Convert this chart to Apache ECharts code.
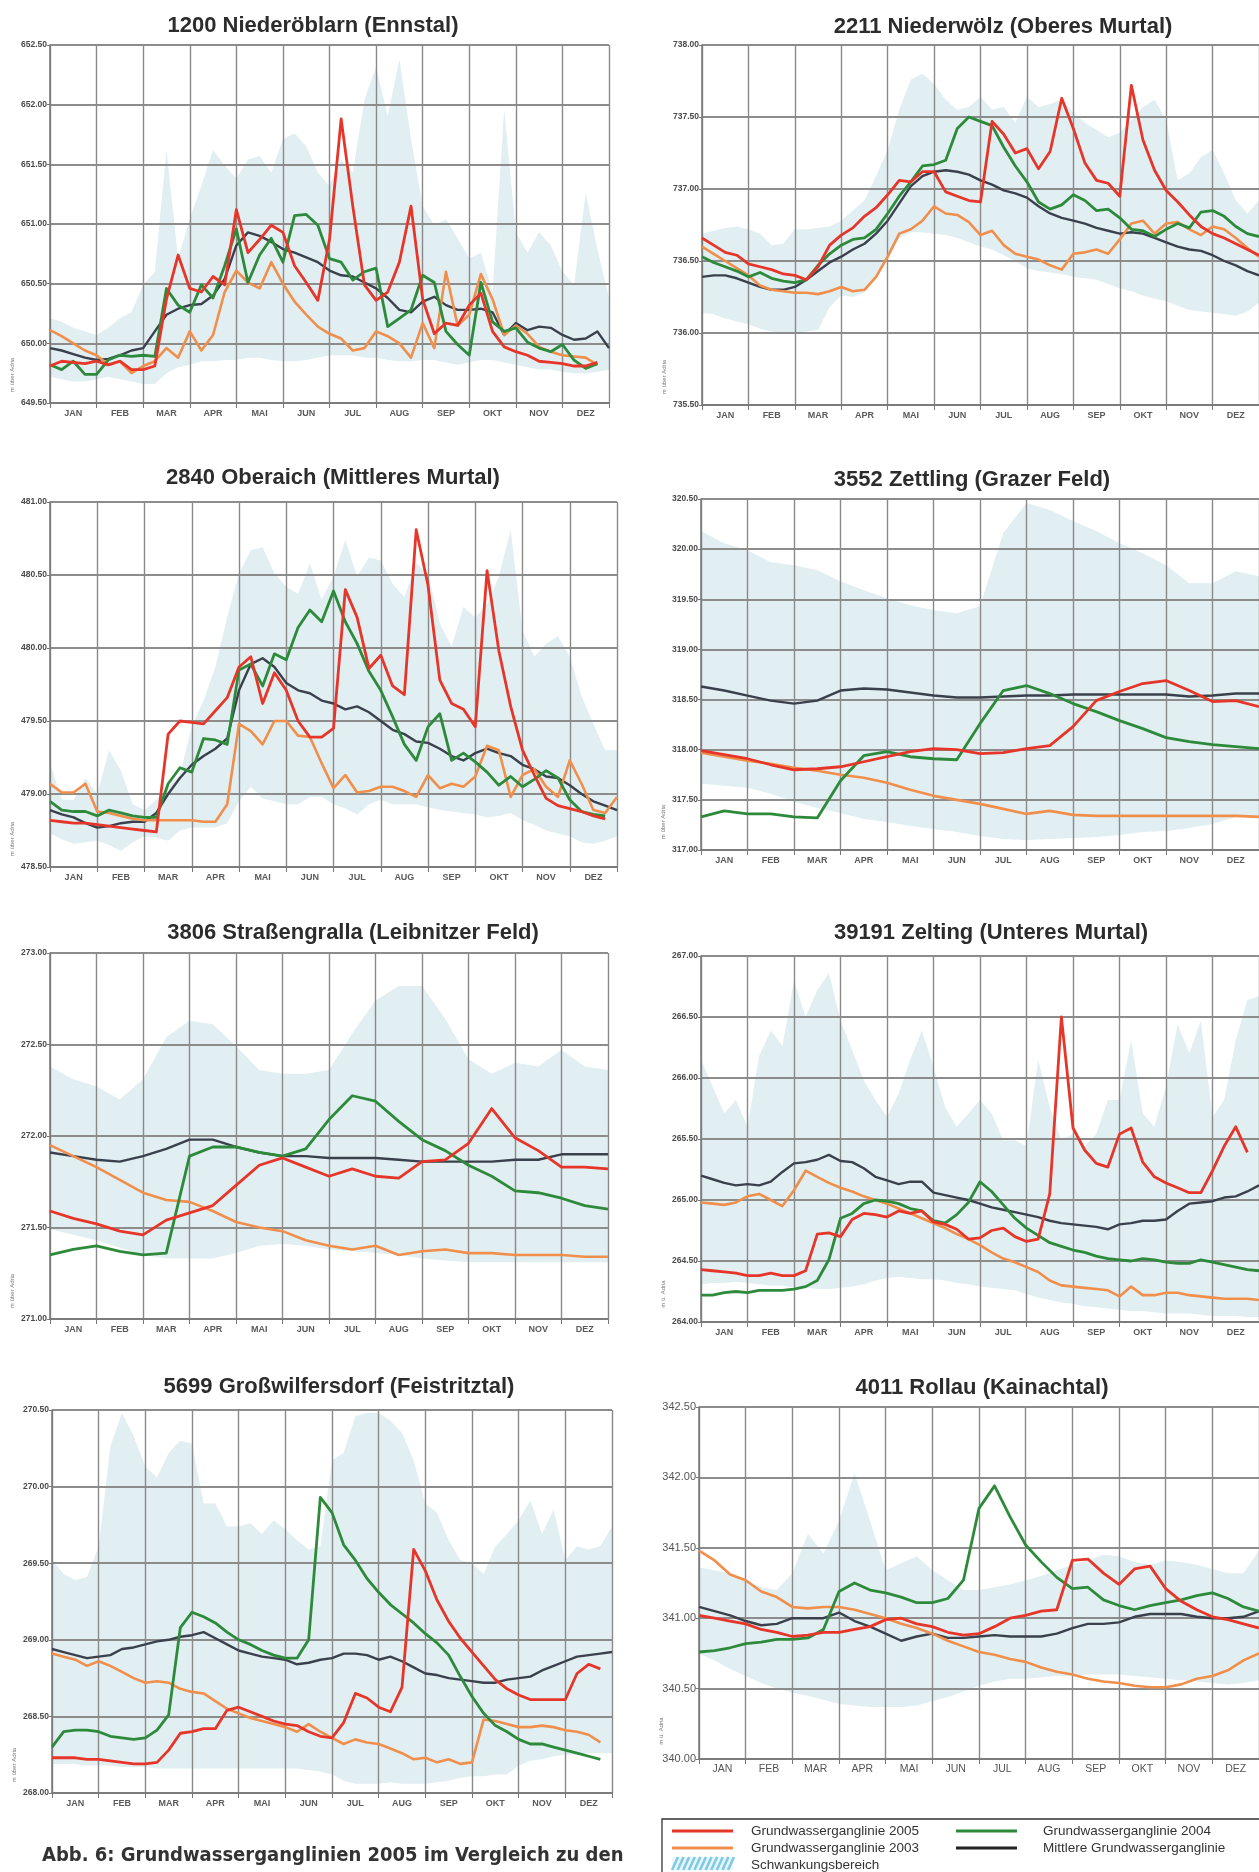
<!DOCTYPE html>
<html><head><meta charset="utf-8">
<script src="https://cdn.jsdelivr.net/npm/echarts@6/dist/echarts.min.js"></script>
<style>html,body{margin:0;padding:0;background:#fff}#c{width:1259px;height:1872px}</style>
</head><body><div id="c"></div>
<script>
// ---------- shared ----------
const MONTHS = ['JAN','FEB','MAR','APR','MAI','JUN','JUL','AUG','SEP','OKT','NOV','DEZ'];

// ---------- 1200 Niederöblarn (weekly, 4 samples / month) ----------
const c1_band_lo = [649.72,649.70,649.68,649.68,649.70,649.72,649.70,649.68,649.66,649.66,649.75,649.80,649.82,649.85,649.85,649.86,649.86,649.88,649.88,649.86,649.85,649.85,649.86,649.88,649.90,649.90,649.90,649.88,649.88,649.86,649.85,649.85,649.86,649.86,649.84,649.82,649.84,649.86,649.86,649.84,649.82,649.80,649.78,649.78,649.76,649.75,649.75,649.76,649.78];
const c1_band_hi = [650.21,650.18,650.13,650.10,650.07,650.13,650.21,650.26,650.49,650.60,651.62,650.71,651.04,651.32,651.62,651.49,651.38,651.54,651.57,651.43,651.71,651.76,651.65,651.43,651.32,651.54,651.43,652.04,652.32,651.90,652.38,651.71,651.15,650.99,651.04,650.88,650.71,650.76,650.43,651.96,650.93,650.76,650.93,650.82,650.60,650.49,651.26,650.79,650.38];
const c1_mean = [649.96,649.94,649.91,649.88,649.86,649.87,649.90,649.94,649.96,650.10,650.24,650.29,650.32,650.33,650.40,650.54,650.82,650.93,650.90,650.85,650.79,650.76,650.72,650.68,650.61,650.57,650.56,650.51,650.46,650.38,650.28,650.26,650.35,650.39,650.32,650.28,650.28,650.29,650.26,650.07,650.17,650.11,650.14,650.13,650.07,650.03,650.04,650.10,649.96];
const c1_y2003 = [650.11,650.06,650.00,649.94,649.90,649.82,649.85,649.75,649.81,649.85,649.96,649.88,650.10,649.94,650.07,650.43,650.61,650.51,650.46,650.68,650.50,650.35,650.24,650.14,650.08,650.04,649.94,649.96,650.10,650.06,650.00,649.88,650.17,649.96,650.60,650.15,650.24,650.58,650.37,650.07,650.15,650.08,649.97,649.93,649.90,649.89,649.88,649.82,null];
const c1_y2004 = [649.82,649.78,649.85,649.74,649.74,649.86,649.90,649.89,649.90,649.89,650.46,650.32,650.26,650.49,650.38,650.65,650.96,650.51,650.74,650.88,650.68,651.07,651.08,650.99,650.71,650.68,650.53,650.60,650.63,650.14,650.21,650.28,650.57,650.51,650.10,649.99,649.90,650.51,650.18,650.10,650.13,650.01,649.96,649.93,649.99,649.86,649.79,649.83,null];
const c1_y2005 = [649.81,649.85,649.84,649.83,649.85,649.82,649.85,649.78,649.78,649.81,650.37,650.74,650.46,650.43,650.56,650.49,651.12,650.76,650.87,650.99,650.93,650.65,650.51,650.36,650.87,651.88,651.15,650.49,650.36,650.43,650.68,651.15,650.37,650.08,650.17,650.15,650.32,650.42,650.10,649.97,649.93,649.90,649.85,649.84,649.83,649.81,649.81,649.84,null];

// ---------- 2211 Niederwölz ----------
const c2_band_lo = [736.14,736.13,736.10,736.08,736.06,736.03,736.01,736.00,736.00,736.01,736.02,736.18,736.26,736.25,736.28,736.39,736.53,736.66,736.70,736.70,736.69,736.68,736.66,736.63,736.60,736.58,736.54,736.50,736.45,736.43,736.42,736.41,736.39,736.38,736.37,736.34,736.31,736.29,736.26,736.24,736.22,736.19,736.16,736.15,736.14,736.13,736.12,736.15,736.21];
const c2_band_hi = [736.69,736.71,736.73,736.74,736.72,736.69,736.61,736.62,736.72,736.72,736.73,736.74,736.78,736.85,736.92,737.09,737.27,737.55,737.76,737.80,737.73,737.62,737.55,737.57,737.64,737.55,737.57,737.46,737.64,737.57,737.59,737.62,737.53,737.46,737.41,737.36,737.39,737.48,737.57,737.62,737.48,737.06,737.11,737.22,737.27,737.11,736.92,736.83,736.92];
const c2_mean = [736.39,736.40,736.40,736.38,736.35,736.32,736.30,736.30,736.32,736.37,736.43,736.49,736.53,736.58,736.62,736.69,736.78,736.90,737.02,737.09,737.12,737.13,737.12,737.10,737.06,737.03,736.99,736.97,736.94,736.88,736.83,736.80,736.78,736.76,736.73,736.71,736.69,736.70,736.69,736.66,736.63,736.60,736.58,736.57,736.54,736.50,736.47,736.43,736.40];
const c2_y2003 = [736.60,736.55,736.50,736.45,736.40,736.33,736.30,736.29,736.28,736.28,736.27,736.29,736.32,736.29,736.30,736.39,736.53,736.69,736.72,736.78,736.88,736.83,736.82,736.77,736.68,736.71,736.61,736.55,736.53,736.51,736.47,736.44,736.55,736.56,736.58,736.55,736.65,736.76,736.78,736.69,736.76,736.77,736.72,736.68,736.74,736.72,736.66,736.59,736.53];
const c2_y2004 = [736.53,736.49,736.46,736.43,736.39,736.42,736.38,736.36,736.35,736.37,736.47,736.55,736.61,736.65,736.66,736.72,736.83,736.95,737.05,737.16,737.17,737.20,737.42,737.50,737.47,737.44,737.29,737.16,737.05,736.91,736.86,736.89,736.96,736.92,736.85,736.86,736.80,736.72,736.71,736.67,736.72,736.76,736.73,736.84,736.85,736.81,736.74,736.69,736.67];
const c2_y2005 = [736.66,736.61,736.56,736.54,736.48,736.46,736.44,736.41,736.40,736.37,736.46,736.61,736.68,736.73,736.81,736.87,736.96,737.06,737.05,737.12,737.12,736.98,736.95,736.92,736.91,737.47,737.38,737.25,737.28,737.14,737.26,737.63,737.42,737.18,737.06,737.04,736.95,737.72,737.34,737.13,736.99,736.91,736.82,736.74,736.69,736.66,736.62,736.58,736.54];

// ---------- 2840 Oberaich ----------
const c3_band_lo = [478.73,478.69,478.66,478.67,478.68,478.65,478.61,478.67,478.71,478.70,478.68,478.75,478.77,478.77,478.77,478.80,478.95,479.05,478.97,478.95,478.93,478.93,478.98,478.98,478.93,478.90,478.86,478.93,478.96,478.93,478.93,478.93,478.91,478.89,478.88,478.87,478.86,478.84,478.85,478.87,478.82,478.79,478.75,478.73,478.71,478.67,478.66,478.68,478.71];
const c3_band_hi = [479.21,478.96,478.96,479.11,479.00,479.30,479.16,478.93,478.89,478.96,479.05,479.13,479.46,479.64,479.87,480.21,480.51,480.67,480.69,480.51,480.42,480.37,480.58,480.33,480.49,480.74,480.49,480.62,480.60,480.44,480.35,480.58,480.51,480.17,480.01,480.28,480.21,480.30,480.49,480.81,480.12,479.94,480.03,480.08,479.94,479.67,479.48,479.30,479.30];
const c3_mean = [478.89,478.86,478.84,478.80,478.77,478.78,478.80,478.81,478.81,478.87,479.00,479.11,479.20,479.26,479.31,479.38,479.71,479.89,479.93,479.87,479.76,479.71,479.69,479.64,479.62,479.58,479.60,479.56,479.50,479.44,479.41,479.36,479.35,479.31,479.26,479.23,479.28,479.31,479.28,479.26,479.20,479.17,479.12,479.11,479.06,479.00,478.95,478.92,478.89];
const c3_y2003 = [479.07,479.01,479.01,479.07,478.88,478.87,478.85,478.83,478.82,478.82,478.82,478.82,478.82,478.81,478.81,478.93,479.48,479.43,479.34,479.50,479.50,479.40,479.39,479.21,479.04,479.13,479.01,479.02,479.05,479.05,479.02,478.98,479.13,479.04,479.07,479.05,479.12,479.33,479.30,478.98,479.13,479.17,479.05,478.98,479.23,479.07,478.89,478.87,478.98];
const c3_y2004 = [478.95,478.89,478.88,478.88,478.85,478.89,478.87,478.85,478.84,478.84,479.07,479.18,479.15,479.38,479.37,479.34,479.85,479.89,479.74,479.96,479.92,480.14,480.26,480.18,480.39,480.18,480.03,479.84,479.71,479.53,479.34,479.23,479.46,479.55,479.23,479.28,479.22,479.15,479.06,479.12,479.05,479.10,479.16,479.11,478.96,478.88,478.86,478.85,null];
const c3_y2005 = [478.82,478.81,478.80,478.80,478.79,478.78,478.77,478.76,478.75,478.74,479.41,479.50,479.49,479.48,479.57,479.66,479.87,479.94,479.62,479.83,479.71,479.50,479.39,479.39,479.45,480.40,480.21,479.86,479.95,479.74,479.68,480.81,480.43,479.78,479.62,479.58,479.46,480.53,479.98,479.60,479.30,479.13,478.97,478.92,478.90,478.88,478.85,478.83,null];

// ---------- 3552 Zettling (half-monthly) ----------
const c4_band_lo = [317.66,317.64,317.62,317.56,317.48,317.42,317.37,317.31,317.28,317.24,317.21,317.18,317.14,317.11,317.10,317.11,317.12,317.13,317.15,317.18,317.19,317.22,317.26,317.33,317.34];
const c4_band_hi = [320.18,320.06,319.99,319.87,319.84,319.79,319.68,319.59,319.51,319.44,319.39,319.36,319.43,320.16,320.46,320.39,320.28,320.18,320.06,319.96,319.84,319.66,319.66,319.78,319.73];
const c4_mean = [318.63,318.59,318.54,318.49,318.46,318.49,318.59,318.61,318.60,318.57,318.54,318.52,318.52,318.53,318.54,318.54,318.55,318.55,318.55,318.55,318.55,318.53,318.54,318.56,318.56];
const c4_y2003 = [317.97,317.93,317.89,317.86,317.82,317.79,317.75,317.72,317.67,317.60,317.54,317.50,317.46,317.41,317.36,317.39,317.35,317.34,317.34,317.34,317.34,317.34,317.34,317.34,317.33];
const c4_y2004 = [317.33,317.39,317.36,317.36,317.33,317.32,317.69,317.94,317.98,317.93,317.91,317.90,318.26,318.59,318.64,318.56,318.46,318.38,318.29,318.21,318.12,318.08,318.05,318.03,318.01];
const c4_y2005 = [317.99,317.95,317.91,317.85,317.80,317.81,317.83,317.88,317.93,317.98,318.01,318.00,317.96,317.97,318.01,318.04,318.23,318.49,318.58,318.66,318.69,318.59,318.48,318.49,318.43];

// ---------- 3806 Straßengralla (half-monthly) ----------
const c5_band_lo = [271.49,271.46,271.43,271.39,271.35,271.33,271.33,271.33,271.36,271.40,271.41,271.40,271.38,271.37,271.36,271.35,271.33,271.32,271.31,271.31,271.31,271.31,271.31,271.31,271.31];
const c5_band_hi = [272.38,272.31,272.27,272.20,272.31,272.54,272.63,272.61,272.49,272.36,272.34,272.34,272.36,272.56,272.74,272.82,272.82,272.64,272.42,272.34,272.40,272.38,272.47,272.38,272.36];
const c5_mean = [271.91,271.89,271.87,271.86,271.89,271.93,271.98,271.98,271.94,271.91,271.89,271.89,271.88,271.88,271.88,271.87,271.86,271.86,271.86,271.86,271.87,271.87,271.90,271.90,271.90];
const c5_y2003 = [271.95,271.89,271.83,271.76,271.69,271.65,271.64,271.59,271.53,271.50,271.48,271.43,271.40,271.38,271.40,271.35,271.37,271.38,271.36,271.36,271.35,271.35,271.35,271.34,271.34];
const c5_y2004 = [271.35,271.38,271.40,271.37,271.35,271.36,271.89,271.94,271.94,271.91,271.89,271.93,272.09,272.22,272.19,272.08,271.98,271.92,271.84,271.78,271.70,271.69,271.66,271.62,271.60];
const c5_y2005 = [271.59,271.55,271.52,271.48,271.46,271.54,271.58,271.62,271.73,271.84,271.88,271.83,271.78,271.82,271.78,271.77,271.86,271.87,271.96,272.15,271.99,271.92,271.83,271.83,271.82];

// ---------- 39191 Zelting ----------
const c6_band_lo = [264.31,264.32,264.32,264.33,264.32,264.31,264.30,264.30,264.28,264.28,264.27,264.27,264.28,264.29,264.31,264.34,264.36,264.37,264.36,264.35,264.35,264.34,264.32,264.31,264.29,264.28,264.27,264.26,264.23,264.20,264.18,264.16,264.15,264.13,264.12,264.11,264.10,264.09,264.09,264.08,264.07,264.07,264.07,264.06,264.05,264.05,264.05,264.04,264.04];
const c6_band_hi = [266.15,265.93,265.71,265.82,265.60,266.18,266.39,266.26,266.80,266.50,266.72,266.86,266.47,266.23,265.98,265.82,265.68,265.87,266.15,266.39,266.09,265.76,265.60,265.71,265.82,265.71,265.49,265.49,265.44,266.15,265.76,265.49,265.54,265.44,265.54,265.82,265.82,266.31,265.71,265.60,265.93,266.44,266.20,266.47,265.68,265.82,266.31,266.64,266.67];
const c6_mean = [265.20,265.17,265.14,265.12,265.13,265.12,265.15,265.23,265.30,265.31,265.33,265.37,265.32,265.31,265.26,265.19,265.16,265.13,265.15,265.15,265.06,265.04,265.02,265.00,264.97,264.94,264.92,264.90,264.88,264.86,264.83,264.81,264.80,264.79,264.78,264.76,264.80,264.81,264.83,264.83,264.84,264.91,264.97,264.98,264.99,265.02,265.03,265.07,265.12];
const c6_y2003 = [264.98,264.97,264.96,264.98,265.03,265.05,265.00,264.95,265.08,265.24,265.19,265.14,265.10,265.07,265.03,265.00,264.97,264.93,264.89,264.85,264.81,264.77,264.72,264.68,264.63,264.57,264.52,264.49,264.45,264.41,264.34,264.30,264.29,264.28,264.27,264.26,264.21,264.29,264.22,264.22,264.24,264.24,264.22,264.21,264.20,264.19,264.19,264.19,264.18];
const c6_y2004 = [264.22,264.22,264.24,264.25,264.24,264.26,264.26,264.26,264.27,264.29,264.34,264.51,264.85,264.89,264.97,265.00,264.99,264.97,264.93,264.91,264.83,264.81,264.88,264.98,265.15,265.07,264.96,264.85,264.77,264.71,264.65,264.62,264.59,264.57,264.54,264.52,264.51,264.50,264.52,264.51,264.49,264.48,264.48,264.51,264.49,264.47,264.45,264.43,264.42];
const c6_y2005 = [264.43,264.42,264.41,264.40,264.38,264.38,264.40,264.38,264.38,264.42,264.72,264.73,264.70,264.84,264.89,264.88,264.86,264.91,264.89,264.91,264.82,264.80,264.76,264.68,264.69,264.75,264.77,264.70,264.66,264.68,265.05,266.50,265.59,265.41,265.30,265.27,265.54,265.59,265.31,265.19,265.14,265.10,265.06,265.06,265.24,265.44,265.60,265.39,null];

// ---------- 5699 Großwilfersdorf ----------
const c7_band_lo = [268.19,268.19,268.19,268.18,268.18,268.18,268.17,268.17,268.17,268.16,268.16,268.16,268.16,268.16,268.16,268.16,268.16,268.16,268.16,268.16,268.16,268.16,268.15,268.14,268.12,268.08,268.06,268.06,268.06,268.07,268.06,268.06,268.06,268.07,268.08,268.10,268.11,268.11,268.12,268.12,268.18,268.21,268.22,268.24,268.25,268.25,268.26,268.26,268.26];
const c7_band_hi = [269.52,269.43,269.39,269.41,269.61,270.26,270.48,270.33,270.13,270.06,270.22,270.30,270.28,269.89,269.89,269.74,269.74,269.76,269.69,269.78,269.72,269.65,269.59,269.61,270.17,270.22,270.46,270.48,270.48,270.43,270.35,270.17,269.89,269.83,269.65,269.52,269.50,269.43,269.61,269.69,269.78,269.91,269.69,269.85,269.52,269.61,269.59,269.61,269.74];
const c7_mean = [268.94,268.92,268.90,268.88,268.89,268.90,268.94,268.95,268.97,268.99,269.00,269.02,269.03,269.05,269.01,268.97,268.93,268.91,268.89,268.88,268.87,268.84,268.85,268.87,268.88,268.91,268.91,268.90,268.87,268.89,268.86,268.82,268.78,268.77,268.75,268.74,268.73,268.72,268.72,268.74,268.75,268.76,268.80,268.83,268.86,268.89,268.90,268.91,268.92];
const c7_y2003 = [268.91,268.89,268.87,268.83,268.86,268.83,268.79,268.75,268.72,268.73,268.72,268.68,268.66,268.65,268.60,268.55,268.52,268.49,268.47,268.45,268.43,268.40,268.45,268.40,268.36,268.32,268.35,268.33,268.32,268.29,268.26,268.22,268.23,268.20,268.22,268.19,268.20,268.48,268.47,268.45,268.43,268.43,268.44,268.43,268.41,268.40,268.38,268.33,null];
const c7_y2004 = [268.30,268.40,268.41,268.41,268.40,268.37,268.36,268.35,268.36,268.41,268.51,269.08,269.18,269.15,269.11,269.05,269.00,268.97,268.93,268.90,268.88,268.88,269.00,269.93,269.83,269.62,269.52,269.40,269.31,269.23,269.17,269.11,269.04,268.98,268.90,268.76,268.63,268.52,268.44,268.40,268.35,268.32,268.32,268.30,268.28,268.26,268.24,268.22,null];
const c7_y2005 = [268.23,268.23,268.23,268.22,268.22,268.21,268.20,268.19,268.19,268.20,268.28,268.39,268.40,268.42,268.42,268.54,268.56,268.53,268.50,268.47,268.45,268.44,268.40,268.37,268.36,268.46,268.65,268.62,268.56,268.53,268.69,269.59,269.45,269.26,269.12,269.01,268.92,268.83,268.74,268.68,268.64,268.61,268.61,268.61,268.61,268.78,268.84,268.81,null];

// ---------- 4011 Rollau (3 samples / month) ----------
const c8_band_lo = [340.75,340.70,340.64,340.59,340.54,340.50,340.47,340.45,340.42,340.39,340.38,340.37,340.37,340.37,340.38,340.41,340.44,340.48,340.52,340.55,340.57,340.57,340.58,340.59,340.59,340.60,340.60,340.60,340.59,340.58,340.57,340.56,340.55,340.54,340.53,340.54,340.56];
const c8_band_hi = [341.36,341.34,341.32,341.27,341.22,341.20,341.32,341.60,341.46,341.69,342.03,341.69,341.34,341.39,341.44,341.34,341.27,341.20,341.20,341.22,341.24,341.27,341.30,341.34,341.38,341.41,341.45,341.44,341.40,341.38,341.41,341.40,341.38,341.35,341.32,341.32,341.48];
const c8_mean = [341.08,341.05,341.02,340.98,340.95,340.96,341.00,341.00,341.00,341.04,340.98,340.94,340.89,340.84,340.87,340.89,340.86,340.86,340.87,340.88,340.87,340.87,340.87,340.89,340.93,340.96,340.96,340.97,341.01,341.03,341.03,341.03,341.01,341.00,341.00,341.01,341.05];
const c8_y2003 = [341.48,341.41,341.31,341.27,341.19,341.15,341.08,341.07,341.08,341.08,341.06,341.03,341.00,340.96,340.93,340.89,340.84,340.80,340.76,340.74,340.71,340.69,340.65,340.62,340.60,340.57,340.55,340.54,340.52,340.51,340.51,340.53,340.57,340.59,340.63,340.70,340.75];
const c8_y2004 = [340.76,340.77,340.79,340.82,340.83,340.85,340.85,340.86,340.92,341.19,341.25,341.20,341.18,341.15,341.11,341.11,341.14,341.27,341.78,341.94,341.72,341.52,341.40,341.29,341.21,341.22,341.13,341.09,341.06,341.09,341.11,341.13,341.16,341.18,341.14,341.08,341.05];
const c8_y2005 = [341.02,341.00,340.98,340.96,340.92,340.90,340.87,340.88,340.90,340.90,340.92,340.94,340.99,341.00,340.96,340.94,340.90,340.88,340.89,340.94,341.00,341.02,341.05,341.06,341.41,341.42,341.32,341.24,341.35,341.37,341.21,341.12,341.06,341.01,340.99,340.96,340.93];

// ---------- chart definitions (data references) ----------
const CHARTS = [
  {title:'1200 Niederöblarn (Ennstal)', perMonth:4, yMin:649.5, yMax:652.5, lo:c1_band_lo, hi:c1_band_hi, mean:c1_mean, y2003:c1_y2003, y2004:c1_y2004, y2005:c1_y2005, unit:'m über Adria'},
  {title:'2211 Niederwölz (Oberes Murtal)', perMonth:4, yMin:735.5, yMax:738.0, lo:c2_band_lo, hi:c2_band_hi, mean:c2_mean, y2003:c2_y2003, y2004:c2_y2004, y2005:c2_y2005, unit:'m über Adria'},
  {title:'2840 Oberaich (Mittleres Murtal)', perMonth:4, yMin:478.5, yMax:481.0, lo:c3_band_lo, hi:c3_band_hi, mean:c3_mean, y2003:c3_y2003, y2004:c3_y2004, y2005:c3_y2005, unit:'m über Adria'},
  {title:'3552 Zettling (Grazer Feld)', perMonth:2, yMin:317.0, yMax:320.5, lo:c4_band_lo, hi:c4_band_hi, mean:c4_mean, y2003:c4_y2003, y2004:c4_y2004, y2005:c4_y2005, unit:'m über Adria'},
  {title:'3806 Straßengralla (Leibnitzer Feld)', perMonth:2, yMin:271.0, yMax:273.0, lo:c5_band_lo, hi:c5_band_hi, mean:c5_mean, y2003:c5_y2003, y2004:c5_y2004, y2005:c5_y2005, unit:'m über Adria'},
  {title:'39191 Zelting (Unteres Murtal)', perMonth:4, yMin:264.0, yMax:267.0, lo:c6_band_lo, hi:c6_band_hi, mean:c6_mean, y2003:c6_y2003, y2004:c6_y2004, y2005:c6_y2005, unit:'m ü. Adria'},
  {title:'5699 Großwilfersdorf (Feistritztal)', perMonth:4, yMin:268.0, yMax:270.5, lo:c7_band_lo, hi:c7_band_hi, mean:c7_mean, y2003:c7_y2003, y2004:c7_y2004, y2005:c7_y2005, unit:'m über Adria'},
  {title:'4011 Rollau (Kainachtal)', perMonth:3, yMin:340.0, yMax:342.5, lo:c8_band_lo, hi:c8_band_hi, mean:c8_mean, y2003:c8_y2003, y2004:c8_y2004, y2005:c8_y2005, unit:'m ü. Adria', plain:true}
];
const LAYOUT = [
  {grid:{left:50, top:45, width:559, height:358}, title:[313,26]},
  {grid:{left:702, top:45, width:565, height:360}, title:[1003,27]},
  {grid:{left:50, top:502, width:567, height:365}, title:[333,478]},
  {grid:{left:701, top:499, width:560, height:351}, title:[972,480]},
  {grid:{left:50, top:953, width:558, height:366}, title:[353,933]},
  {grid:{left:701, top:956, width:559, height:366}, title:[991,933]},
  {grid:{left:52, top:1410, width:560, height:383}, title:[339,1387]},
  {grid:{left:699, top:1407, width:565, height:352}, title:[982,1388]}
];
const COL = {band:'#e1eef2', mean:'#3a404c', y2003:'#f08f4c', y2004:'#2e8a3b', y2005:'#e6362a'};
const FONT = '"Liberation Sans", Arial, sans-serif';

function pairs(perMonth, arr){ return arr.map((v,i)=>[i/perMonth, v==null?'-':v]); }

const grid=[], xAxis=[], yAxis=[], series=[], graphic=[];
CHARTS.forEach((c,k)=>{
  const L = LAYOUT[k];
  grid.push(Object.assign({containLabel:false}, L.grid));
  xAxis.push({type:'value', gridIndex:k, min:0, max:12, interval:1, z:3,
    axisLabel:{show:false},
    axisTick:{show:true, length:5, lineStyle:{color:'#777', width:1}},
    axisLine:{show:true, lineStyle:{color:'#777', width:1.7}},
    splitLine:{show:true, lineStyle:{color:'#8a8a8a', width:1.4}}});
  xAxis.push({type:'category', gridIndex:k, data:MONTHS, boundaryGap:true, position:'bottom', z:3,
    axisLine:{show:false}, axisTick:{show:false}, splitLine:{show:false},
    axisLabel:{margin: c.plain?5:6, color: c.plain?'#555':'#5a5a5a', fontSize: c.plain?10.5:9, fontWeight: c.plain?'normal':'bold', fontFamily:FONT}});
  yAxis.push({type:'value', gridIndex:k, min:c.yMin, max:c.yMax, interval:0.5, z:3,
    axisLabel:{formatter:v=>v.toFixed(2), margin:3, color: c.plain?'#555':'#4a4a4a', fontSize: c.plain?11:8.5, fontWeight: c.plain?'normal':'bold', fontFamily:FONT},
    axisLine:{show:true, lineStyle:{color:'#777', width:1.5}},
    axisTick:{show:true, length:3, lineStyle:{color:'#777'}},
    splitLine:{show:true, lineStyle:{color:'#8c8c8c', width:1.8}}});
  const xi = 2*k, yi = k;
  const base = {type:'line', xAxisIndex:xi, yAxisIndex:yi, symbol:'none', silent:true, animation:false};
  // Schwankungsbereich: upper envelope filled down to the axis, lower envelope masks it with white
  series.push(Object.assign({}, base, {name:'Schwankungsbereich', z:1, data:pairs(c.perMonth, c.hi),
    lineStyle:{width:0, opacity:0}, areaStyle:{color:COL.band, opacity:1, origin:'start'}}));
  series.push(Object.assign({}, base, {name:'Schwankungsbereich (unten)', z:2, data:pairs(c.perMonth, c.lo),
    lineStyle:{width:0, opacity:0}, areaStyle:{color:'#ffffff', opacity:1, origin:'start'}}));
  [['mean','Mittlere Grundwasserganglinie',2.4],['y2003','Grundwasserganglinie 2003',2.6],['y2004','Grundwasserganglinie 2004',2.8],['y2005','Grundwasserganglinie 2005',2.8]].forEach((s,j)=>{
    series.push(Object.assign({}, base, {name:s[1], z:5+j, data:pairs(c.perMonth, c[s[0]]), lineStyle:{color:COL[s[0]], width:s[2], join:'round'}}));
  });
  graphic.push({type:'text', x:L.title[0], y:L.title[1], silent:true,
    style:{text:c.title, align:'center', verticalAlign:'middle', fontSize:22, fontWeight:'bold', fontFamily:FONT, fill:'#2c2c2c'}});
  graphic.push({type:'text', x:L.grid.left-38, y:L.grid.top+L.grid.height-28, rotation:Math.PI/2, silent:true,
    style:{text:c.unit, align:'center', verticalAlign:'middle', fontSize:6, fontFamily:FONT, fill:'#777'}});
});

// ---------- legend box ----------
const LEG = [
  {t:'Grundwasserganglinie 2005', c:COL.y2005, x:672, y:1831},
  {t:'Grundwasserganglinie 2003', c:COL.y2003, x:672, y:1848},
  {t:'Grundwasserganglinie 2004', c:COL.y2004, x:956, y:1831},
  {t:'Mittlere Grundwasserganglinie', c:'#222', x:956, y:1848}
];
graphic.push({type:'rect', shape:{x:662, y:1819, width:640, height:80}, style:{fill:'#fff', stroke:'#333', lineWidth:1.3}, silent:true});
LEG.forEach(e=>{
  graphic.push({type:'line', shape:{x1:e.x, y1:e.y, x2:e.x+61, y2:e.y}, style:{stroke:e.c, lineWidth:3}, silent:true});
  graphic.push({type:'text', x:e.x+(e.x<900?79:87), y:e.y, silent:true,
    style:{text:e.t, align:'left', verticalAlign:'middle', fontSize:13.5, fontFamily:FONT, fill:'#333'}});
});
graphic.push({type:'rect', shape:{x:672, y:1857, width:61, height:13}, style:{fill:'#e9f6fb'}, silent:true});
for(let i=0;i<11;i++){
  graphic.push({type:'line', shape:{x1:672+i*5.6, y1:1870, x2:672+i*5.6+6, y2:1857}, style:{stroke:'#7fcbe6', lineWidth:2.6}, silent:true});
}
graphic.push({type:'text', x:751, y:1865, silent:true,
  style:{text:'Schwankungsbereich', align:'left', verticalAlign:'middle', fontSize:13.5, fontFamily:FONT, fill:'#333'}});

// ---------- caption ----------
graphic.push({type:'text', x:42, y:1856, silent:true,
  style:{text:'Abb. 6: Grundwasserganglinien 2005 im Vergleich zu den', align:'left', verticalAlign:'middle',
    fontSize:20, fontWeight:'bold', fontFamily:'"DejaVu Sans Condensed", "Liberation Sans Narrow", "Liberation Sans", sans-serif', fill:'#333'}});

const chart = echarts.init(document.getElementById('c'), null, {renderer:'canvas'});
chart.setOption({animation:false, backgroundColor:'#fff', grid, xAxis, yAxis, series, graphic});
</script>
</body></html>
